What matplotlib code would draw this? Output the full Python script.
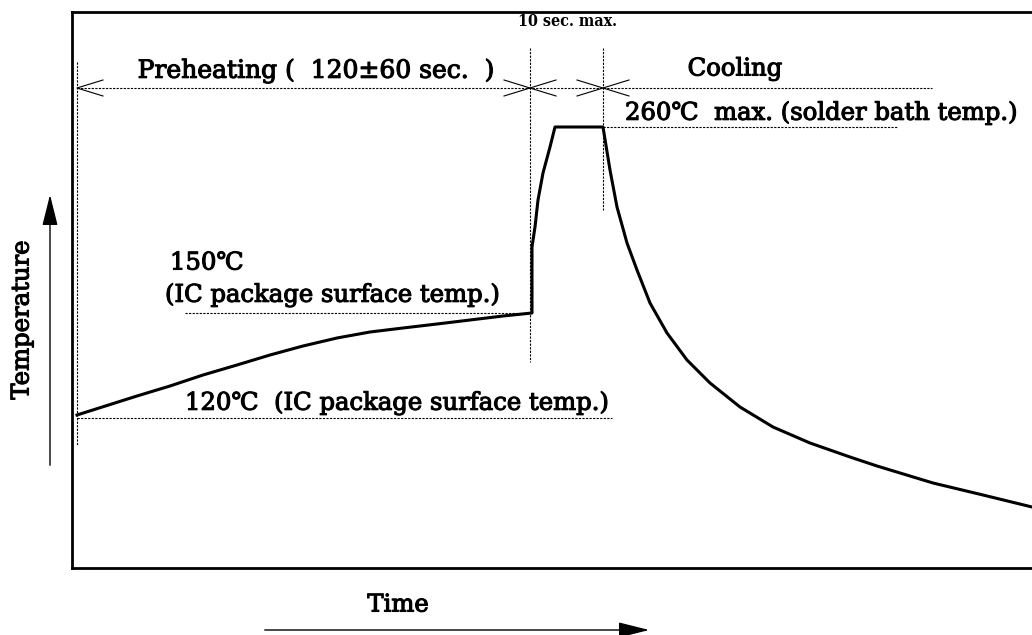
import matplotlib
matplotlib.use("Agg")
import matplotlib.pyplot as plt
import matplotlib.patheffects as pe
from matplotlib.patches import FancyArrowPatch

# ---- data (schematic units) ----
preheat_t = [5, 65, 98, 131, 165, 198, 231, 265, 298, 331, 365, 398, 431, 460]
preheat_T = [153, 172, 182, 193, 203, 213, 222, 230, 236, 240, 244, 248, 252, 255]
rise_t = [460, 460, 463, 466, 471, 478, 483]
rise_T = [255, 321, 341, 368, 395, 421, 441]
peak_t = [483, 531]
peak_T = [441, 441]
cool_t = [531, 538, 545, 555, 565, 578, 595, 615, 638, 668, 701, 738, 778, 805, 861, 911, 960]
cool_T = [441, 398, 361, 325, 298, 265, 235, 208, 185, 161, 141, 125, 111, 102, 85, 73, 61]

t_start, t_soak_end, t_peak_end = 5, 458, 531
T_120, T_150, T_260 = 150, 255, 441
y_dim = 480

labels = {
    "pre": "Preheating (  120\u00b160 sec.  )",
    "ten": "10 sec. max.",
    "cool": "Cooling",
    "t260": "260\u2103  max. (solder bath temp.)",
    "t150": "150\u2103",
    "ic": "(IC package surface temp.)",
    "t120": "120\u2103  (IC package surface temp.)",
}

W, H = 1032, 635
fig = plt.figure(figsize=(W / 100, H / 100), dpi=100)
ax = fig.add_axes([72 / W, (H - 568) / H, (W - 72) / W, 556 / H])
ax.set_xlim(0, 960)
ax.set_ylim(0, 556)
ax.set_xticks([])
ax.set_yticks([])
for s in ["left", "top", "bottom"]:
    ax.spines[s].set_linewidth(2.0)
ax.spines["right"].set_visible(False)

serif = ["DejaVu Serif", "DejaVu Sans"]
bold_fx = [pe.withStroke(linewidth=0.8, foreground="black")]

# curve
t_all = preheat_t + rise_t[1:] + peak_t[1:] + cool_t[1:]
T_all = preheat_T + rise_T[1:] + peak_T[1:] + cool_T[1:]
ax.plot(t_all, T_all, color="black", lw=2.2, solid_joinstyle="round", clip_on=True)

dot = dict(color="black", lw=0.8, dashes=(2, 1.2))
# vertical dotted guides
ax.plot([t_start, t_start], [506, 123], **dot)
ax.plot([t_soak_end, t_soak_end], [520, 206], **dot)
ax.plot([t_peak_end, t_peak_end], [520, 358], **dot)
# horizontal dotted guides
ax.plot([t_start, 860], [y_dim, y_dim], **dot)
ax.plot([t_peak_end, 825], [T_260, T_260], **dot)
ax.plot([113, t_soak_end], [T_150, T_150], **dot)
ax.plot([t_start, 540], [T_120, T_120], **dot)

# chevron arrowheads
def chevron(tip, direction):
    dx = 26 * direction
    ax.plot([tip + dx, tip, tip + dx], [y_dim + 8, y_dim, y_dim - 8], color="black", lw=0.8)

chevron(t_start, 1)
chevron(t_soak_end, -1)
chevron(t_soak_end, 1)
chevron(t_peak_end, -1)
chevron(t_peak_end, 1)

fs = 17.5
tkw = dict(fontsize=fs, family=serif, path_effects=bold_fx)
ax.text(244, 497, labels["pre"], ha="center", va="center",
        **{**tkw, "fontsize": 18})
ax.text(495, 547, labels["ten"], fontsize=11.5, family=["DejaVu Serif"], stretch="condensed",
        weight="bold", ha="center", va="center")
ax.text(663, 499, labels["cool"], ha="center", va="center", **tkw)
ax.text(553, 455, labels["t260"], ha="left", va="center", **tkw)
ax.text(98, 305, labels["t150"], ha="left", va="center", **tkw)
ax.text(93, 273, labels["ic"], ha="left", va="center", **tkw)
ax.text(113, 165, labels["t120"], ha="left", va="center", **tkw)

# outer axis labels and arrows
fig.text(22 / W, 1 - 320 / H, "Temperature", rotation=90, ha="center", va="center", **tkw)
fig.text(398 / W, 1 - 605 / H, "Time", ha="center", va="center", **tkw)
arrow_kw = dict(arrowstyle="-|>,head_length=1.6,head_width=0.4", color="black", lw=1.0,
                mutation_scale=12, transform=fig.transFigure)
fig.patches.append(FancyArrowPatch((262 / W, 1 - 630 / H), (652 / W, 1 - 630 / H), **arrow_kw))
fig.patches.append(FancyArrowPatch((50 / W, 1 - 468 / H), (50 / W, 1 - 192 / H), **arrow_kw))

fig.savefig("out.png", dpi=100)
